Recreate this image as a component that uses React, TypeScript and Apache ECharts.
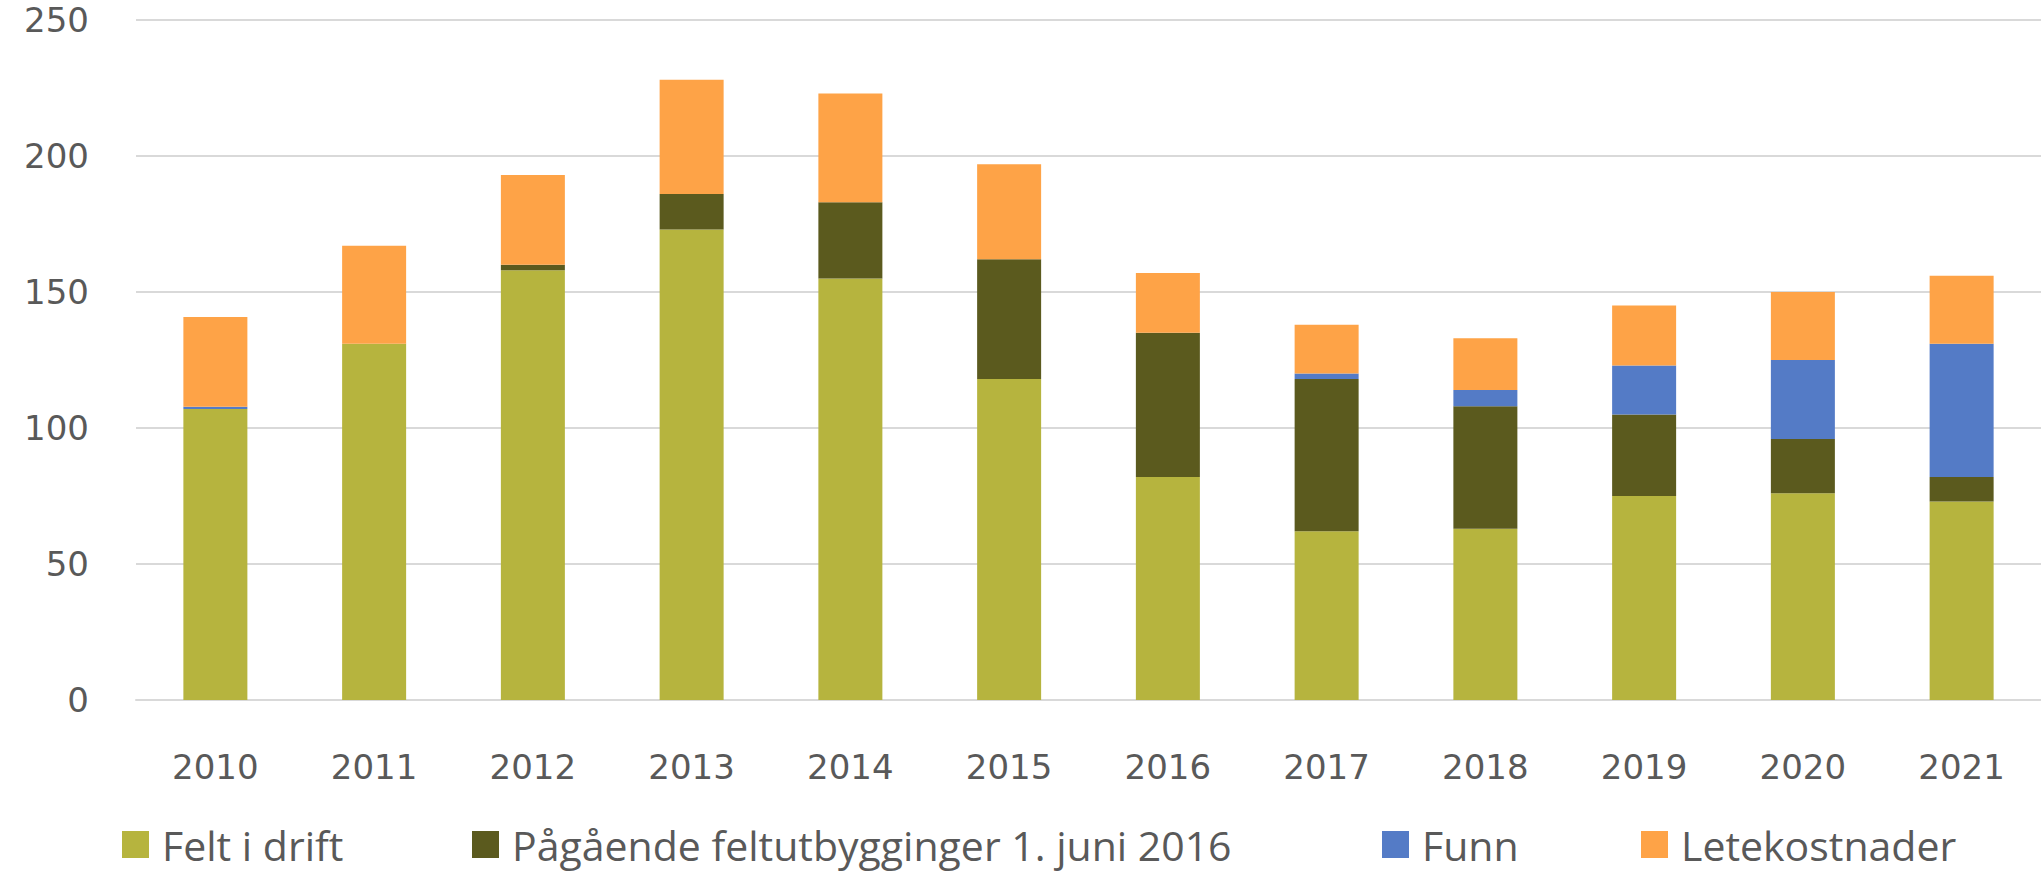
import React, { useEffect, useRef } from "react";
import * as echarts from "echarts";

const categories = ["2010", "2011", "2012", "2013", "2014", "2015", "2016", "2017", "2018", "2019", "2020", "2021"];
const feltIDrift = [107, 131, 158, 173, 155, 118, 82, 62, 63, 75, 76, 73];
const paagaaende = [0, 0, 2, 13, 28, 44, 53, 56, 45, 30, 20, 9];
const funn = [0.8, 0, 0, 0, 0, 0, 0, 2, 6, 18, 29, 49];
const letekostnader = [33, 36, 33, 42, 40, 35, 22, 18, 19, 22, 25, 25];

const seriesNames = ["Felt i drift", "Pågående feltutbygginger 1. juni 2016", "Funn", "Letekostnader"];
const seriesColors = ["#B6B43E", "#5B5A1E", "#547BC6", "#FEA347"];
const seriesData = [feltIDrift, paagaaende, funn, letekostnader];
const legendLefts = [122, 472, 1382, 1641];

export default function App() {
  const ref = useRef<HTMLDivElement>(null);
  useEffect(() => {
    if (!ref.current) return;
    const chart = echarts.init(ref.current, null, { renderer: "svg" });
    chart.setOption({
      animation: false,
      backgroundColor: "#ffffff",
      grid: { left: 136, top: 20, width: 1910, height: 680, containLabel: false },
      legend: seriesNames.map((n, i) => ({
        data: [n],
        left: legendLefts[i],
        top: 824,
        padding: 0,
        icon: "rect",
        itemWidth: 27,
        itemHeight: 27,
        selectedMode: false,
        textStyle: {
          fontFamily: "Open Sans",
          fontSize: 41,
          color: "#595959",
          padding: [0, 0, 0, 8],
        },
      })),
      xAxis: {
        type: "category",
        data: categories,
        axisLine: { show: true, lineStyle: { color: "#D9D9D9", width: 2 } },
        axisTick: { show: false },
        axisLabel: {
          fontFamily: "DejaVu Sans",
          fontSize: 34,
          color: "#595959",
          margin: 50,
        },
      },
      yAxis: {
        type: "value",
        min: 0,
        max: 250,
        interval: 50,
        axisLine: { show: false },
        axisTick: { show: false },
        splitLine: { lineStyle: { color: "#D9D9D9", width: 2 } },
        axisLabel: {
          fontFamily: "DejaVu Sans",
          fontSize: 34,
          color: "#595959",
          margin: 47,
        },
      },
      series: seriesNames.map((n, i) => ({
        name: n,
        type: "bar",
        stack: "total",
        barWidth: 64,
        data: seriesData[i],
        itemStyle: { color: seriesColors[i] },
      })),
    });
    return () => chart.dispose();
  }, []);
  return (
    <div
      ref={ref}
      style={{ position: "absolute", left: 0, top: 0, width: 2041, height: 873 }}
    />
  );
}
